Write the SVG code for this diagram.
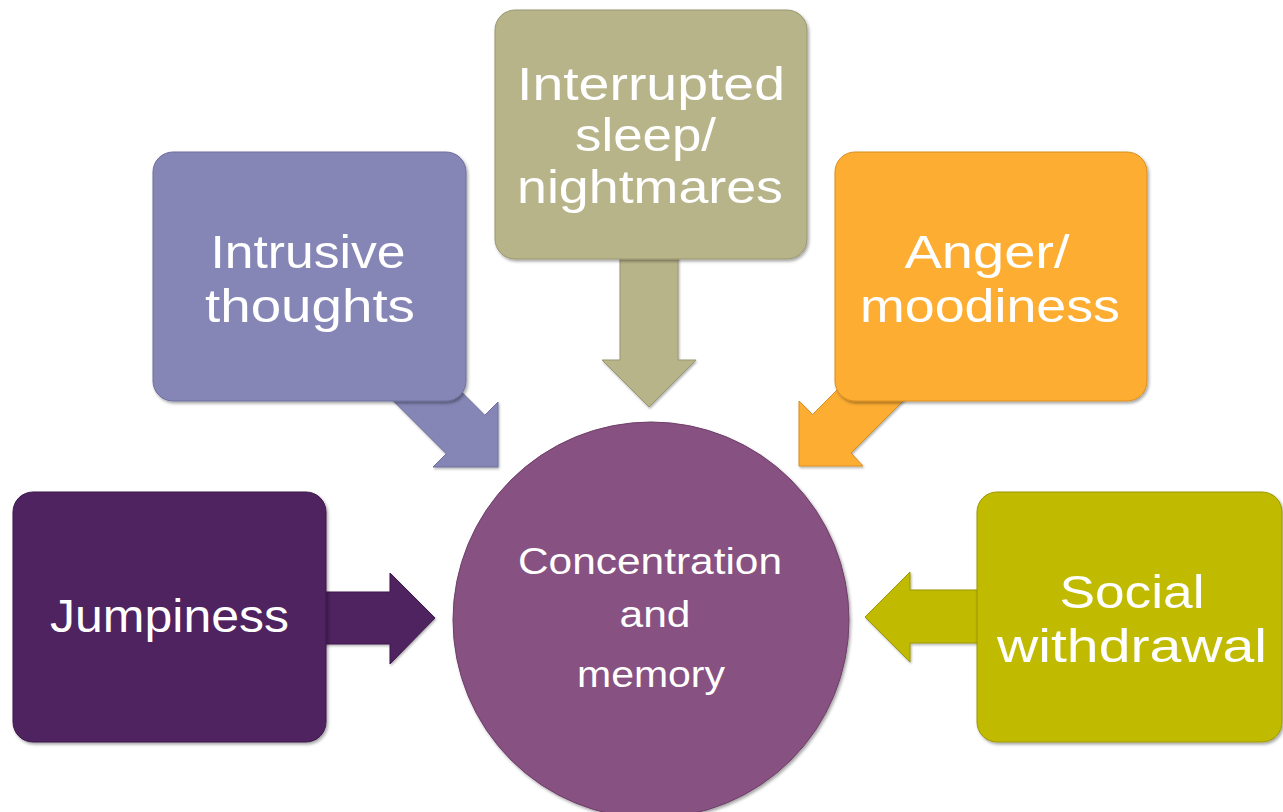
<svg xmlns="http://www.w3.org/2000/svg" width="1283" height="812" viewBox="0 0 1283 812">
<defs>
<style>
.lbl{font-family:"Liberation Sans",Arial,sans-serif;fill:#ffffff;text-anchor:middle;font-size:46px}
.clbl{font-family:"Liberation Sans",Arial,sans-serif;fill:#ffffff;text-anchor:middle;font-size:36px}
.box{filter:url(#sh)}
.arr{filter:url(#sh2)}
</style>
<filter id="sh" x="-10%" y="-10%" width="120%" height="120%">
<feDropShadow dx="1.5" dy="2" stdDeviation="1.5" flood-color="#000" flood-opacity="0.35"/>
</filter>
<filter id="sh2" x="-10%" y="-10%" width="120%" height="120%">
<feDropShadow dx="1" dy="1.5" stdDeviation="1" flood-color="#000" flood-opacity="0.3"/>
</filter>
</defs>
<rect width="1283" height="812" fill="#ffffff"/>
<g id="connectors">
<polygon class="arr" fill="#4f2260" stroke="#3e1a4c" stroke-width="1" points="310,592 390,592 390,573 435,618 390,664 390,644 310,644"/>
<polygon class="arr" fill="#8586b5" stroke="#6d6e9c" stroke-width="1" points="404.75,335.25 484.75,415.25 498,402 498,467 433,467 446.25,453.75 366.25,373.75"/>
<polygon class="arr" fill="#b8b48a" stroke="#9a9670" stroke-width="1" points="620,240 678,240 678,360 696,360 649,407 602,360 620,360"/>
<polygon class="arr" fill="#fdad33" stroke="#d88f20" stroke-width="1" points="892.5,334.5 812.5,414.5 799,401 799,466 863,466 851,453 931,373"/>
<polygon class="arr" fill="#c0bb00" stroke="#9c9800" stroke-width="1" points="990,590 910,590 910,572 865,617 910,662 910,643 990,643"/>
</g>
<g id="node-jumpiness">
<rect class="box" x="13" y="492" width="313" height="250" rx="20" fill="#4f2260" stroke="#3e1a4c" stroke-width="1"/>
<text class="lbl" x="169.5" y="632" textLength="239" lengthAdjust="spacingAndGlyphs">Jumpiness</text>
</g>
<g id="node-intrusive">
<rect class="box" x="153" y="152" width="313" height="249" rx="20" fill="#8586b5" stroke="#6d6e9c" stroke-width="1"/>
<text class="lbl" x="308" y="268" textLength="195" lengthAdjust="spacingAndGlyphs">Intrusive</text>
<text class="lbl" x="310" y="322" textLength="210" lengthAdjust="spacingAndGlyphs">thoughts</text>
</g>
<g id="node-interrupted">
<rect class="box" x="495" y="10" width="312" height="249" rx="20" fill="#b8b48a" stroke="#9a9670" stroke-width="1"/>
<text class="lbl" x="651" y="100" textLength="268" lengthAdjust="spacingAndGlyphs">Interrupted</text>
<text class="lbl" x="645.5" y="151" textLength="141" lengthAdjust="spacingAndGlyphs">sleep/</text>
<text class="lbl" x="650" y="203" textLength="266" lengthAdjust="spacingAndGlyphs">nightmares</text>
</g>
<g id="node-anger">
<rect class="box" x="835" y="152" width="312" height="249" rx="20" fill="#fdad33" stroke="#d88f20" stroke-width="1"/>
<text class="lbl" x="987" y="268" textLength="165" lengthAdjust="spacingAndGlyphs">Anger/</text>
<text class="lbl" x="990" y="322" textLength="260" lengthAdjust="spacingAndGlyphs">moodiness</text>
</g>
<g id="node-social">
<rect class="box" x="977" y="492" width="305" height="250" rx="20" fill="#c0bb00" stroke="#9c9800" stroke-width="1"/>
<text class="lbl" x="1132" y="608" textLength="145" lengthAdjust="spacingAndGlyphs">Social</text>
<text class="lbl" x="1132" y="662" textLength="270" lengthAdjust="spacingAndGlyphs">withdrawal</text>
</g>
<g id="node-center">
<circle class="box" cx="651" cy="620" r="198" fill="#875181" stroke="#6e3f69" stroke-width="1"/>
<text class="clbl" x="650" y="574" textLength="264" lengthAdjust="spacingAndGlyphs">Concentration</text>
<text class="clbl" x="655" y="627" textLength="71" lengthAdjust="spacingAndGlyphs">and</text>
<text class="clbl" x="651" y="687" textLength="148" lengthAdjust="spacingAndGlyphs">memory</text>
</g>
</svg>
